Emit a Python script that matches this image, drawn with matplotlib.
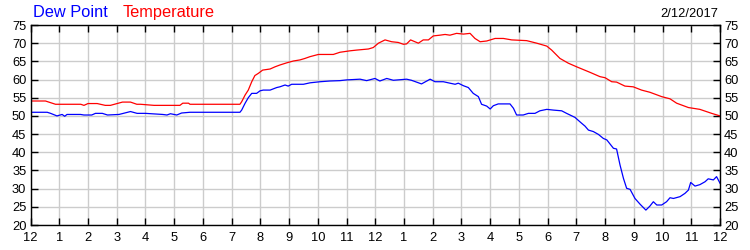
import numpy as np
import matplotlib
matplotlib.use("Agg")
import matplotlib.pyplot as plt

plt.rcParams['font.family'] = ['Liberation Sans', 'DejaVu Sans']

# temperature (hours since midnight, degF)
temp_h = [0, 0.52, 0.87, 1.75, 1.86, 2.0, 2.32, 2.6, 2.78, 3.2, 3.48, 3.7, 3.83, 4.3, 4.4,
          5.2, 5.3, 5.5, 5.55, 7.29, 7.35, 7.47, 7.58, 7.70, 7.81, 7.93, 8.08, 8.34, 8.51,
          8.68, 8.92, 9.15, 9.38, 9.55, 9.73, 10.02, 10.54, 10.77, 11.12, 11.35, 11.76,
          11.93, 12.11, 12.34, 12.57, 12.80, 12.98, 13.09, 13.23, 13.50, 13.67, 13.85,
          14.02, 14.25, 14.43, 14.60, 14.83, 15.07, 15.30, 15.47, 15.65, 15.88, 16.17,
          16.46, 16.75, 17.27, 17.62, 17.97, 18.14, 18.43, 18.72, 19.01, 19.47, 19.82,
          20.0, 20.23, 20.4, 20.69, 20.98, 21.27, 21.56, 21.97, 22.26, 22.49, 22.9, 23.3,
          23.71, 24.0]
temp_v = [54.1, 54.1, 53.2, 53.2, 52.9, 53.4, 53.4, 52.9, 52.9, 53.8, 53.8, 53.2, 53.2, 52.9, 52.9,
          52.9, 53.5, 53.5, 53.2, 53.2, 53.9, 55.75, 57.1, 59.4, 61.1, 61.7, 62.6, 62.9, 63.5,
          64.0, 64.6, 65.1, 65.4, 65.8, 66.3, 66.9, 66.9, 67.5, 67.9, 68.1, 68.4,
          68.8, 70.0, 70.9, 70.4, 70.2, 69.7, 69.8, 70.9, 70.0, 70.9, 70.9,
          72.0, 72.2, 72.4, 72.2, 72.7, 72.5, 72.7, 71.3, 70.4, 70.6, 71.3,
          71.3, 70.9, 70.7, 70.0, 69.2, 68.1, 65.8, 64.5, 63.5, 62.0, 60.8,
          60.5, 59.4, 59.3, 58.2, 58.0, 57.1, 56.5, 55.3, 54.7, 53.5, 52.3, 51.8,
          50.7, 50.0]

# dew point
dew_h = [0, 0.58, 0.70, 0.92, 1.10, 1.19, 1.27, 1.74, 1.86, 2.13, 2.26, 2.5, 2.68, 3.08,
         3.48, 3.71, 4.0, 4.6, 4.75, 4.87, 5.09, 5.26, 5.55, 7.29, 7.35, 7.47, 7.58, 7.70,
         7.87, 7.99, 8.1, 8.34, 8.57, 8.68, 8.86, 8.97, 9.09, 9.50,
         9.73, 10.08, 10.42, 10.77, 11.0, 11.47, 11.70, 11.99, 12.16, 12.40, 12.63,
         13.09, 13.26, 13.61, 13.91, 14.08, 14.37, 14.60,
         14.78, 14.89, 15.07, 15.24, 15.41, 15.59, 15.70, 15.88, 16.0,
         16.11, 16.28, 16.69, 16.81, 16.92, 17.15, 17.33, 17.56, 17.73, 17.97, 18.2, 18.49,
         18.66, 18.95, 19.18, 19.3, 19.42, 19.59, 19.77, 19.94, 20.06, 20.29, 20.40, 20.52,
         20.64, 20.75, 20.87, 21.04, 21.22, 21.42, 21.56, 21.68, 21.8, 21.97, 22.14, 22.26,
         22.38, 22.61, 22.78, 22.9, 22.98, 23.13, 23.3, 23.48, 23.59, 23.77, 23.88, 24.0]
dew_v = [51.0, 51.0, 50.7, 50.0, 50.4, 49.9, 50.4, 50.4, 50.25, 50.25, 50.7, 50.7, 50.25, 50.4,
         51.2, 50.7, 50.7, 50.4, 50.25, 50.6, 50.25, 50.8, 51.0, 51.0, 51.6, 53.5, 55.0, 56.2,
         56.2, 56.9, 57.1, 57.1, 57.8, 58.0, 58.5, 58.2, 58.7, 58.7,
         59.1, 59.4, 59.6, 59.7, 59.9, 60.1, 59.7, 60.3, 59.6, 60.3, 59.8,
         60.1, 59.8, 58.8, 60.1, 59.4, 59.4, 59.0,
         58.7, 59.0, 58.3, 57.8, 56.2, 55.3, 53.2, 52.7, 51.9,
         52.8, 53.3, 53.3, 52.1, 50.25, 50.25, 50.7, 50.7, 51.4, 51.8, 51.6, 51.4,
         50.7, 49.6, 48.0, 47.2, 46.1, 45.7, 44.9, 43.8, 43.4, 41.1, 40.9, 36.5,
         32.8, 30.1, 29.8, 27.3, 25.7, 24.1, 25.2, 26.4, 25.5, 25.5, 26.4, 27.5,
         27.3, 27.8, 28.7, 29.6, 31.7, 30.7, 31.1, 31.9, 32.7, 32.4, 33.3, 31.5]

hour_labels = ['12', '1', '2', '3', '4', '5', '6', '7', '8', '9', '10', '11',
               '12', '1', '2', '3', '4', '5', '6', '7', '8', '9', '10', '11', '12']
y_ticks = list(range(20, 80, 5))

fig = plt.figure(figsize=(7.5, 2.5), dpi=100)
ax = fig.add_axes([0.0407, 0.1, 0.9193, 0.8])

ax.plot(temp_h, temp_v, color='#ff0000', lw=0.9)
ax.plot(dew_h, dew_v, color='#0000ff', lw=0.9)

ax.set_xlim(0, 24)
ax.set_ylim(20, 75)
ax.set_xticks(range(25))
ax.set_xticklabels(hour_labels)
ax.set_yticks(y_ticks)
ax.grid(True, color='#cccccc', lw=1)
ax.set_axisbelow(True)
ax.tick_params(direction='in', length=5, width=1, labelsize=9.3, pad=3,
               top=True, right=True, labelright=True)
ax.tick_params(axis='x', pad=5)
for s in ax.spines.values():
    s.set_linewidth(1)

fig.text(0.044, 0.95, 'Dew Point', color='#0000ff', fontsize=11.8, va='center')
fig.text(0.164, 0.95, 'Temperature', color='#ff0000', fontsize=11.8, va='center')
fig.text(0.957, 0.945, '2/12/2017', color='black', fontsize=9.3, va='center', ha='right')

fig.savefig('out.png', dpi=100)
